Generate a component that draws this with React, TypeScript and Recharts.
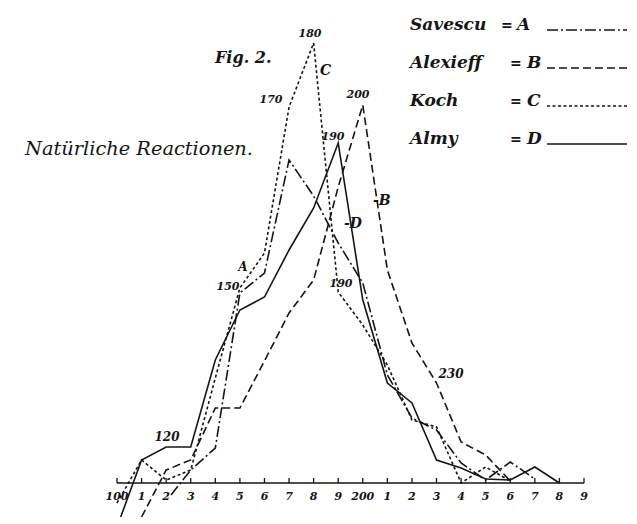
import { ComposedChart, Line, Scatter, XAxis, YAxis, ReferenceLine } from "recharts";

// x = position on the reaction-time scale (0 = 100, 10 = 200, 19 = 290)
const xTicks = [0, 1, 2, 3, 4, 5, 6, 7, 8, 9, 10, 11, 12, 13, 14, 15, 16, 17, 18, 19];
const tickLabels = ["100", "1", "2", "3", "4", "5", "6", "7", "8", "9", "200", "1", "2", "3", "4", "5", "6", "7", "8", "9"];

const savescu = [
  [2.2, -12], [3, 13], [4, 35], [5, 190], [6, 210], [7, 323], [8, 287], [9, 240],
  [10, 200], [11, 108], [12, 65], [13, 53], [14, 20], [15, 3], [16, 21], [17, 4],
];
const alexieff = [
  [1, -34], [2, 13], [3, 23], [4, 75], [5, 75], [6, 122], [7, 170], [8, 203], [9, 296],
  [10, 378], [11, 213], [12, 140], [13, 100], [14, 41], [15, 28], [16, 2],
];
const koch = [
  [0, -20], [1, 23], [2, 3], [3, 13], [4, 105], [5, 195], [6, 230], [7, 376], [8, 440],
  [9, 191], [10, 158], [11, 118], [12, 63], [13, 56], [14, 0], [15, 16], [16, 2],
];
const almy = [
  [0.15, -34], [1, 23], [2, 36], [3, 36], [4, 123], [5, 173], [6, 186], [7, 233], [8, 275],
  [9, 340], [10, 183], [11, 100], [12, 80], [13, 23], [14, 15], [15, 4], [16, 3], [17, 16], [18, 0],
];

const seriesNames = ["Savescu", "Alexieff", "Koch", "Almy"];
const seriesLetters = ["A", "B", "C", "D"];
const seriesValues = [savescu, alexieff, koch, almy];
const dashes = ["11 3 2 3", "8 4", "3 2.5", undefined];

const INK = "#151515";
const SERIF = "'DejaVu Serif', 'Liberation Serif', serif";

const toPoints = (pairs: number[][]) => pairs.map(([x, y]) => ({ x, y }));
const tickPoints = xTicks.map((x) => ({ x, y: 0 }));

// tick mark pointing up from the axis, number set below it
function TickMark({ cx, cy, payload }: any) {
  return (
    <g>
      <line x1={cx} x2={cx} y1={cy} y2={cy - 5} stroke={INK} strokeWidth={1.3} />
      <text
        x={cx}
        y={cy + 17}
        textAnchor="middle"
        fontFamily={SERIF}
        fontStyle="italic"
        fontWeight="bold"
        fontSize={11}
        fill={INK}
      >
        {tickLabels[payload.x]}
      </text>
    </g>
  );
}

const note = {
  fontFamily: SERIF,
  fontStyle: "italic" as const,
  fontWeight: "bold" as const,
  fill: INK,
};

export default function App() {
  return (
    <div style={{ position: "absolute", top: 0, left: 0, width: 637, height: 524, background: "#fff" }}>
      <ComposedChart width={637} height={524} margin={{ top: 0, right: 53, bottom: 0, left: 117 }}>
        <XAxis dataKey="x" type="number" domain={[0, 19]} hide />
        <YAxis dataKey="y" type="number" domain={[-41, 483]} hide />
        <ReferenceLine y={0} stroke={INK} strokeWidth={1.5} />
        <Scatter data={tickPoints} shape={<TickMark />} isAnimationActive={false} legendType="none" />
        {seriesValues.map((vals, i) => (
          <Line
            key={seriesNames[i]}
            data={toPoints(vals)}
            dataKey="y"
            name={seriesNames[i]}
            type="linear"
            stroke={INK}
            strokeWidth={1.6}
            strokeDasharray={dashes[i]}
            dot={false}
            activeDot={false}
            isAnimationActive={false}
          />
        ))}
      </ComposedChart>

      <svg width={637} height={524} style={{ position: "absolute", top: 0, left: 0, pointerEvents: "none" }}>
        {/* title */}
        <text x={215} y={63} fontSize={16} {...note}>Fig. 2.</text>
        <text
          x={25}
          y={155}
          fontSize={19}
          fontFamily={SERIF}
          fontStyle="italic"
          fill={INK}
          textLength={228}
          lengthAdjust="spacingAndGlyphs"
        >
          Natürliche Reactionen.
        </text>

        {/* legend */}
        {seriesNames.map((name, i) => {
          const yy = 30 + i * 38;
          return (
            <g key={name}>
              <text x={410} y={yy} fontSize={17} {...note}>{name}</text>
              <text x={i === 0 ? 501 : 510} y={yy} fontSize={14} {...note}>=</text>
              <text x={i === 0 ? 517 : 527} y={yy} fontSize={17} {...note}>{seriesLetters[i]}</text>
              <line x1={547} x2={627} y1={yy} y2={yy} stroke={INK} strokeWidth={1.5} strokeDasharray={dashes[i]} />
            </g>
          );
        })}

        {/* curve annotations */}
        <text x={310} y={37} fontSize={11} textAnchor="middle" {...note}>180</text>
        <text x={320} y={75} fontSize={14} {...note}>C</text>
        <text x={271} y={103} fontSize={11} textAnchor="middle" {...note}>170</text>
        <text x={358} y={98} fontSize={11} textAnchor="middle" {...note}>200</text>
        <text x={333} y={140} fontSize={11} textAnchor="middle" {...note}>190</text>
        <text x={373} y={205} fontSize={14} {...note}>-B</text>
        <text x={344} y={228} fontSize={14} {...note}>-D</text>
        <text x={243} y={271} fontSize={12} textAnchor="middle" {...note}>A</text>
        <text x={228} y={290} fontSize={11} textAnchor="middle" {...note}>150</text>
        <text x={341} y={287} fontSize={11} textAnchor="middle" {...note}>190</text>
        <text x={451} y={378} fontSize={12} textAnchor="middle" {...note}>230</text>
        <text x={167} y={441} fontSize={12} textAnchor="middle" {...note}>120</text>
      </svg>
    </div>
  );
}
